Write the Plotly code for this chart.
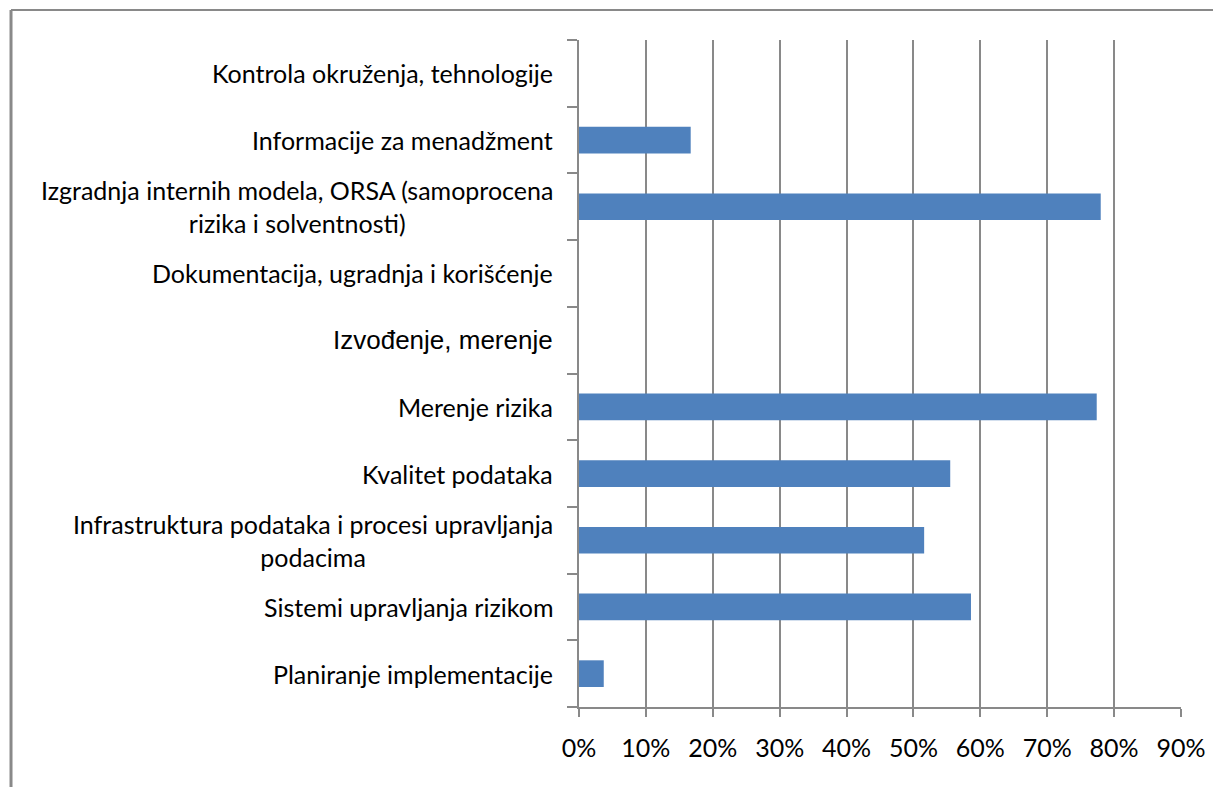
import plotly.graph_objs as go

# categories bottom -> top, as in the chart
categories = [
    "Planiranje implementacije",
    "Sistemi upravljanja rizikom",
    "Infrastruktura podataka i procesi upravljanja<br>podacima",
    "Kvalitet podataka",
    "Merenje rizika",
    "Izvođenje, merenje",
    "Dokumentacija, ugradnja i korišćenje",
    "Izgradnja internih modela, ORSA (samoprocena<br>rizika i solventnosti)",
    "Informacije za menadžment",
    "Kontrola okruženja, tehnologije",
]
values = [0.037, 0.586, 0.516, 0.555, 0.774, 0.0, 0.0, 0.780, 0.167, 0.0]
x_ticks = [0, 0.1, 0.2, 0.3, 0.4, 0.5, 0.6, 0.7, 0.8, 0.9]

grey = '#898989'
font_main = 'Lato'

fig = go.Figure()
fig.add_trace(go.Bar(x=values, y=list(range(len(categories))), orientation='h',
                     width=0.4, marker=dict(color='#4F81BD', line=dict(width=0)),
                     hoverinfo='x'))

# y labels as annotations so wrapped lines stay centred
for i, c in enumerate(categories):
    fnt = dict(family=font_main, size=25, color='black')
    if c.startswith("Izvođenje"):
        fnt = dict(family='Liberation Sans', size=26, color='black')
    fig.add_annotation(x=0, y=i, xref='paper', yref='y', text=c, showarrow=False,
                       xanchor='right', yanchor='middle', xshift=-24, align='center',
                       font=fnt)

fig.update_xaxes(range=[0, 0.9], tickvals=x_ticks, tickformat='.0%',
                 showgrid=True, gridcolor=grey, gridwidth=2,
                 ticks='outside', ticklen=8, tickwidth=2, tickcolor=grey,
                 showline=True, linecolor=grey, linewidth=2, zeroline=False,
                 ticklabelstandoff=10,
                 tickfont=dict(family=font_main, size=25, color='black'))
fig.update_yaxes(range=[-0.5, len(categories) - 0.5], tickvals=[i - 0.5 for i in range(len(categories) + 1)],
                 showticklabels=False, showgrid=False, zeroline=False,
                 ticks='outside', ticklen=10, tickwidth=2, tickcolor=grey,
                 showline=True, linecolor=grey, linewidth=2)

# outer chart frame (only left and top edges visible)
fig.add_shape(type='line', xref='paper', yref='paper', x0=-0.9435, x1=-0.9435, y0=-0.2, y1=1.045,
              line=dict(color=grey, width=3))
fig.add_shape(type='line', xref='paper', yref='paper', x0=-0.9435, x1=1.1, y0=1.045, y1=1.045,
              line=dict(color=grey, width=2))

fig.update_layout(
    width=1221, height=787,
    plot_bgcolor='white', paper_bgcolor='white',
    showlegend=False,
    margin=dict(autoexpand=False, l=571, r=48, t=32, b=88),
)

fig.write_html("out.html")
